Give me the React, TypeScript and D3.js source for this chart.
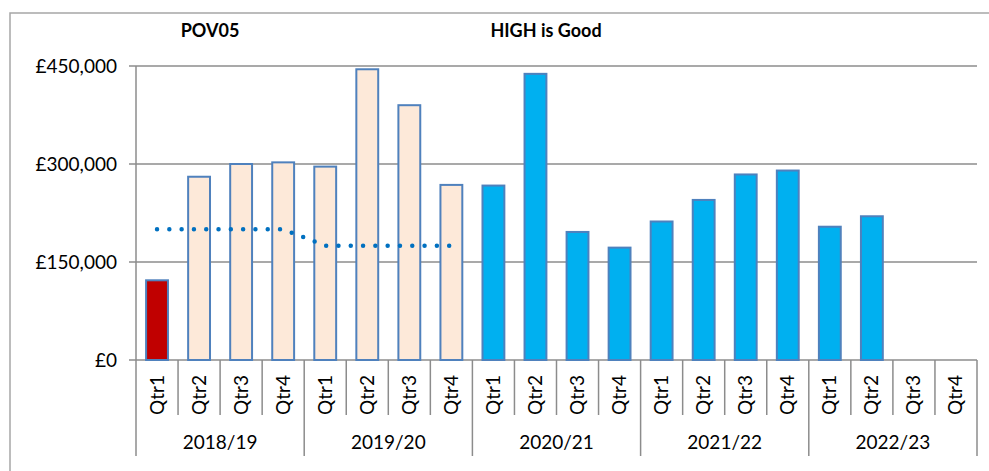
import React from "react";
import * as d3 from "d3";

// chart data
const years = ["2018/19", "2019/20", "2020/21", "2021/22", "2022/23"];
const quarters = ["Qtr1", "Qtr2", "Qtr3", "Qtr4"];
const amounts: (number | null)[] = [
    122000, 280500, 300000, 302500,
    296000, 445000, 390000, 268000,
    267000, 438000, 196000, 172000,
    212000, 245000, 284000, 290000,
    204000, 220000, null, null,
];
// target for the first two years (dotted line)
const target = [200000, 200000, 200000, 200000, 175000, 175000, 175000, 175000];
const yTicks = [0, 150000, 300000, 450000];

const W = 989;
const H = 471;
const font = "Lato, 'Open Sans', sans-serif";

const App = () => {
    const cats = years.flatMap((y) => quarters.map((q) => `${y} ${q}`));
    const left = 136;
    const right = 977;
    const top = 66;
    const bottom = 360;

    const x = d3.scaleBand<string>().domain(cats).range([left, right]).padding(0);
    const bw = x.bandwidth();
    const y = d3.scaleLinear().domain([0, 450000]).range([bottom, top]);
    const fmt = (v: number) => "£" + d3.format(",")(v);

    const barFill = (i: number) => (i === 0 ? "#C00000" : i < 8 ? "#FDE9D9" : "#00B0F0");

    const targetLine = d3
        .line<number>()
        .x((_, i) => (x(cats[i]) as number) + bw / 2)
        .y((d) => y(d));

    const grey = "#8C8C8C";

    return (
        <svg
            width={W}
            height={H}
            style={{ position: "absolute", left: 0, top: 0, background: "#fff" }}
            fontFamily={font}
        >
            {/* outer chart border */}
            <rect x={10} y={13} width={W} height={H} fill="none" stroke="#A6A6A6" strokeWidth={1.5} />

            <text x={210} y={37} textAnchor="middle" fontSize={18} fontWeight="bold">
                POV05
            </text>
            <text x={546} y={37} textAnchor="middle" fontSize={18} fontWeight="bold">
                HIGH is Good
            </text>

            {/* gridlines + y labels */}
            {yTicks.map((t) => (
                <g key={t}>
                    <line x1={left - 7} x2={right} y1={y(t)} y2={y(t)} stroke={grey} strokeWidth={1.5} />
                    <text x={117} y={y(t) + 6.5} textAnchor="end" fontSize={19}>
                        {fmt(t)}
                    </text>
                </g>
            ))}
            <line x1={left} x2={left} y1={top} y2={456} stroke={grey} strokeWidth={1.5} />

            {/* bars */}
            {amounts.map((v, i) =>
                v == null ? null : (
                    <rect
                        key={i}
                        x={(x(cats[i]) as number) + bw * 0.24}
                        y={y(v)}
                        width={bw * 0.52}
                        height={bottom - y(v)}
                        fill={barFill(i)}
                        stroke="#4F81BD"
                        strokeWidth={2}
                    />
                )
            )}

            <path
                d={targetLine(target) || ""}
                fill="none"
                stroke="#0070C0"
                strokeWidth={4.5}
                strokeLinecap="round"
                strokeDasharray="0 12.3"
            />

            {/* category axis separators */}
            {cats.map((c, i) => {
                if (i === 0) return null;
                const xx = x(c) as number;
                const yearEdge = i % 4 === 0;
                return (
                    <line key={c} x1={xx} x2={xx} y1={bottom} y2={yearEdge ? 456 : 415} stroke={grey} strokeWidth={1.5} />
                );
            })}
            <line x1={right} x2={right} y1={bottom} y2={456} stroke={grey} strokeWidth={1.5} />

            {/* quarter labels */}
            {cats.map((c, i) => {
                const cx = (x(c) as number) + bw / 2;
                return (
                    <text
                        key={c}
                        transform={`translate(${cx + 6.5},395) rotate(-90)`}
                        textAnchor="middle"
                        fontSize={19}
                    >
                        {quarters[i % 4]}
                    </text>
                );
            })}

            {/* year labels */}
            {years.map((yr, j) => {
                const x0 = x(cats[j * 4]) as number;
                return (
                    <text key={yr} x={x0 + bw * 2} y={449} textAnchor="middle" fontSize={19}>
                        {yr}
                    </text>
                );
            })}
        </svg>
    );
};

export default App;
